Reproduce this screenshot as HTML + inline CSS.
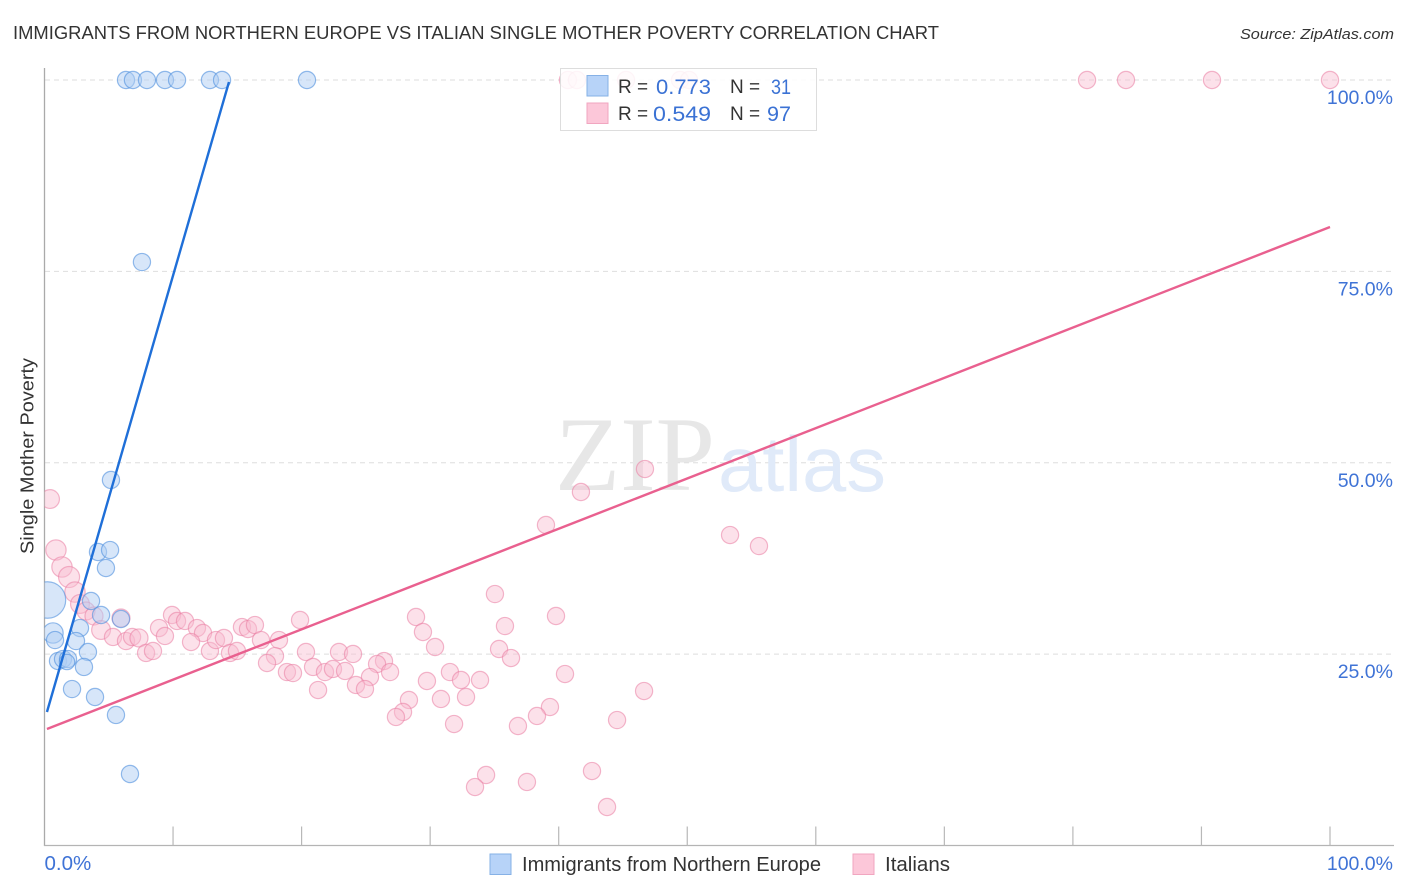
<!DOCTYPE html>
<html lang="en">
<head>
<meta charset="utf-8">
<title>Immigrants from Northern Europe vs Italian Single Mother Poverty Correlation Chart</title>
<style>
html,body{margin:0;padding:0;background:#fff;}
svg{display:block;font-family:"Liberation Sans",sans-serif;}
</style>
</head>
<body>
<svg id="chart" xmlns="http://www.w3.org/2000/svg" width="1406" height="892" viewBox="0 0 1406 892">
  <defs><clipPath id="plot-clip"><rect x="44.5" y="60" width="1350" height="786"/></clipPath></defs>
  <rect x="0" y="0" width="1406" height="892" fill="#fff"/>
  <text x="13" y="39" font-size="18.5" fill="#333" textLength="926" lengthAdjust="spacingAndGlyphs">IMMIGRANTS FROM NORTHERN EUROPE VS ITALIAN SINGLE MOTHER POVERTY CORRELATION CHART</text>
  <text x="1240" y="39" font-size="15" font-style="italic" fill="#333" textLength="154" lengthAdjust="spacingAndGlyphs">Source: ZipAtlas.com</text>
  <g id="grid"></g>
  <text x="555" y="490" font-family="'Liberation Serif',serif" font-size="106" fill="#e7e7e7" textLength="160" lengthAdjust="spacingAndGlyphs">ZIP</text>
  <text x="718" y="491" font-family="'Liberation Sans',sans-serif" font-size="78" fill="#e0eaf9" textLength="168" lengthAdjust="spacingAndGlyphs">atlas</text>
  <g id="axes"></g>
  <g id="marks" clip-path="url(#plot-clip)"></g>
  <g id="trends"></g>
  <g id="tick-labels"></g>
  <text transform="translate(33.5 456) rotate(-90)" text-anchor="middle" font-size="18.5" fill="#333" textLength="196" lengthAdjust="spacingAndGlyphs">Single Mother Poverty</text>

  <g>
    <rect x="560.5" y="68.5" width="256" height="62" fill="#fff" fill-opacity="0.86" stroke="#ddd"/>
    <rect x="587" y="75.5" width="21" height="20.5" fill="#b7d3f8" stroke="#86b1e6"/>
    <rect x="587" y="103" width="21" height="20.5" fill="#fcc7d9" stroke="#f1a6c0"/>
    <text x="618" y="93" font-size="19" fill="#333">R =</text>
    <text x="656" y="94" font-size="21" fill="#3b72d4" textLength="55" lengthAdjust="spacingAndGlyphs">0.773</text>
    <text x="730" y="93" font-size="19" fill="#333">N =</text>
    <text x="771" y="94" font-size="21" fill="#3b72d4" textLength="20" lengthAdjust="spacingAndGlyphs">31</text>
    <text x="618" y="120" font-size="19" fill="#333">R =</text>
    <text x="653" y="121" font-size="21" fill="#3b72d4" textLength="58" lengthAdjust="spacingAndGlyphs">0.549</text>
    <text x="730" y="120" font-size="19" fill="#333">N =</text>
    <text x="767" y="121" font-size="21" fill="#3b72d4" textLength="24" lengthAdjust="spacingAndGlyphs">97</text>
  </g>

  <g>
    <rect x="490" y="854" width="21" height="20.5" fill="#b7d3f8" stroke="#86b1e6"/>
    <text x="522" y="871" font-size="20" fill="#333" textLength="299" lengthAdjust="spacingAndGlyphs">Immigrants from Northern Europe</text>
    <rect x="853" y="854" width="21" height="20.5" fill="#fcc7d9" stroke="#f1a6c0"/>
    <text x="885" y="871" font-size="20" fill="#333" textLength="65" lengthAdjust="spacingAndGlyphs">Italians</text>
  </g>
</svg>
<script>
const yTickValues = [25, 50, 75, 100];
const yTickLabels = ["25.0%", "50.0%", "75.0%", "100.0%"];
const xTickValues = [10, 20, 30, 40, 50, 60, 70, 80, 90, 100];
const xEndValues = [0, 100];
const xEndLabels = ["0.0%", "100.0%"];

const blueX = [6.34,6.88,7.97,9.37,10.31,12.87,13.81,20.42,7.58,5.17,4.16,5.10,4.78,3.62,4.40,5.95,2.76,0.66,0.82,2.45,3.38,1.05,1.44,1.83,1.75,3.07,2.14,3.93,5.56,6.65,0.23];
const blueY = [100,100,100,100,100,100,100,100,76.22,47.75,38.34,38.60,36.25,31.94,30.11,29.59,28.41,27.76,26.84,26.71,25.28,24.10,24.36,24.36,23.97,23.32,20.44,19.40,17.05,9.34,32.07];
const blueWeight = [1,1,1,1,1,1,1,1,1,1,1,1,1,1,1,1,1,1.4,1,1,1,1,1,1,0.8,1,1,1,1,1,4.5];

const pinkX = [40.72,41.42,45.24,49.44,50.14,81.10,84.13,90.82,100,0.43,0.89,1.36,1.91,2.37,2.76,3.23,3.85,5.95,4.40,5.33,6.34,6.81,7.35,7.90,8.44,8.91,9.37,9.92,10.31,10.93,11.86,12.33,11.40,12.87,13.34,13.96,14.43,14.97,15.36,15.83,16.37,16.84,18.24,17.93,17.31,18.86,19.33,19.88,20.34,20.89,21.28,21.82,22.44,22.91,23.38,24.00,26.41,25.87,26.88,25.32,24.23,24.93,28.90,29.44,30.38,29.75,31.54,32.40,33.88,35.04,35.36,35.82,36.29,39.79,40.49,32.79,30.84,28.35,27.89,27.34,31.86,46.64,39.32,38.31,36.83,44.54,42.59,34.35,33.49,37.53,43.76,41.73,46.71,39.01,53.33,55.58];
const pinkY = [100,100,100,100,100,100,100,100,100,45.26,38.60,36.38,35.07,33.11,31.55,30.63,29.98,29.72,28.15,27.24,26.71,27.24,27.11,25.15,25.41,28.41,27.37,30.11,29.33,29.33,28.41,27.76,26.58,25.41,26.84,27.11,25.15,25.41,28.54,28.28,28.80,26.84,26.84,24.75,23.84,22.66,22.53,29.46,25.28,23.32,20.31,22.66,23.06,25.28,22.80,25.02,24.10,23.71,22.66,22.01,20.97,20.44,29.85,27.89,25.93,21.49,22.66,21.62,21.62,32.85,25.67,28.67,24.49,29.98,22.40,19.40,19.14,19.01,17.44,16.79,15.87,20.18,18.09,16.92,15.61,16.39,9.73,9.21,7.64,8.30,5.03,46.18,49.18,41.87,40.56,39.12];
const pinkWeight = [1,1,1,1,1,1,1,1,1,1.2,1.4,1.4,1.5,1.4,1.2,1.1,1.1,1.1,1.2,1,1,1,1.1];

const blueTrendX = [0.19, 14.35];
const blueTrendY = [17.44, 99.74];
const pinkTrendX = [0.19, 100];
const pinkTrendY = [15.22, 80.8];

const SVG_NS = "http://www.w3.org/2000/svg";
function xScale(v) { return 44.5 + v * 12.855; }
function yScale(v) { return 845.5 - v * 7.655; }
function rScale(w) { return 8.6 * Math.sqrt(w === undefined ? 1 : w); }
function make(tag, attrs, parent) {
  const el = document.createElementNS(SVG_NS, tag);
  for (const k in attrs) el.setAttribute(k, attrs[k]);
  parent.appendChild(el);
  return el;
}

const grid = document.getElementById("grid");
const axes = document.getElementById("axes");
const marks = document.getElementById("marks");
const trends = document.getElementById("trends");
const labels = document.getElementById("tick-labels");

yTickValues.forEach(function (v, i) {
  const line = make("line", {x1: 45, x2: 1394, y1: yScale(v), y2: yScale(v), stroke: "#dedede", "stroke-width": 1, "stroke-dasharray": "5 4"}, grid);
  
  
  const t = make("text", {x: 1393, y: yScale(v) + 24, "text-anchor": "end", "font-size": 19.5, fill: "#3f73d6"}, labels);
  
  
  t.textContent = yTickLabels[i];
});

const yAxis = make("line", {x1: 44.5, x2: 44.5, y1: 68, y2: 846, stroke: "#aaa", "stroke-width": 1.3}, axes);


const xAxis = make("line", {x1: 44, x2: 1394, y1: 845.5, y2: 845.5, stroke: "#b4b4b4", "stroke-width": 1.3}, axes);



xTickValues.forEach(function (v) {
  const tick = make("line", {x1: xScale(v), x2: xScale(v), y1: 826.5, y2: 845.5, stroke: "#b8b8b8", "stroke-width": 1.2}, axes);
  
  
});

xEndValues.forEach(function (v, i) {
  const t = make("text", {x: i === 0 ? xScale(v) : 1393, y: 870, "text-anchor": i === 0 ? "start" : "end", "font-size": i === 0 ? 20.5 : 19.5, fill: "#3f73d6"}, labels);
  
  
  t.textContent = xEndLabels[i];
});

pinkX.forEach(function (v, i) {
  const c = make("circle", {cx: xScale(v), cy: yScale(pinkY[i]), r: rScale(pinkWeight[i]), fill: "#f9bdd1", "fill-opacity": 0.45, stroke: "#e97ea3", "stroke-opacity": 0.55, "stroke-width": 1.2}, marks);
  
  
});
blueX.forEach(function (v, i) {
  const c = make("circle", {cx: xScale(v), cy: yScale(blueY[i]), r: rScale(blueWeight[i]), fill: "#b0cdf4", "fill-opacity": 0.5, stroke: "#4f8fdd", "stroke-opacity": 0.6, "stroke-width": 1.2}, marks);
  
  
});

const blueTrend = make("line", {x1: xScale(blueTrendX[0]), y1: yScale(blueTrendY[0]), x2: xScale(blueTrendX[1]), y2: yScale(blueTrendY[1]), stroke: "#1f6fd8", "stroke-width": 2.4}, trends);


const pinkTrend = make("line", {x1: xScale(pinkTrendX[0]), y1: yScale(pinkTrendY[0]), x2: xScale(pinkTrendX[1]), y2: yScale(pinkTrendY[1]), stroke: "#e9608f", "stroke-width": 2.4}, trends);


</script>
</body>
</html>
